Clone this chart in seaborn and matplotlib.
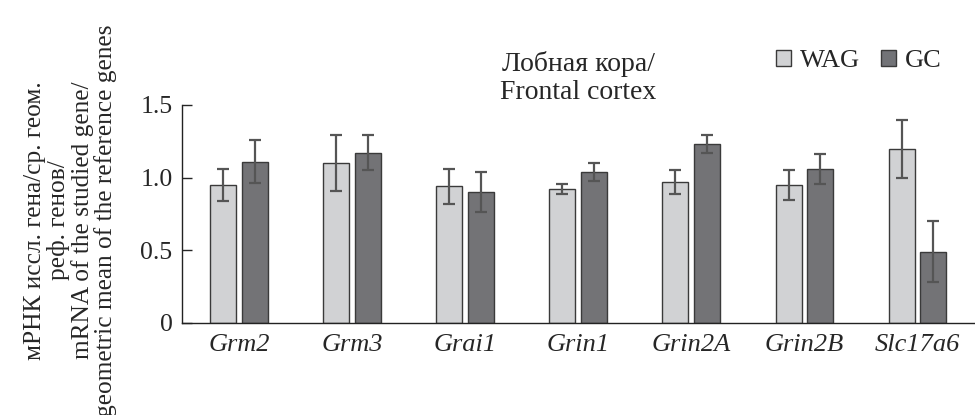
import numpy as np
import pandas as pd
import matplotlib
matplotlib.use("Agg")
import matplotlib.pyplot as plt
import seaborn as sns

genes = ["Grm2", "Grm3", "Grai1", "Grin1", "Grin2A", "Grin2B", "Slc17a6"]
groups = ["WAG", "GC"]
wag_mean = [0.95, 1.10, 0.94, 0.92, 0.97, 0.95, 1.20]
wag_err = [0.11, 0.19, 0.12, 0.035, 0.08, 0.105, 0.20]
gc_mean = [1.11, 1.17, 0.90, 1.04, 1.23, 1.06, 0.49]
gc_err = [0.15, 0.12, 0.14, 0.06, 0.06, 0.105, 0.21]

colors = {"WAG": "#d1d2d4", "GC": "#727377"}

df = pd.DataFrame({
    "gene": genes * 2,
    "group": ["WAG"] * len(genes) + ["GC"] * len(genes),
    "value": wag_mean + gc_mean,
    "err": wag_err + gc_err,
})

sns.set_style("ticks")
plt.rcParams["font.family"] = ["Liberation Serif", "DejaVu Serif"]

fig, ax = plt.subplots(figsize=(9.75, 4.15), dpi=100)
fig.subplots_adjust(left=0.187, right=0.999, bottom=0.222, top=0.747)

sns.barplot(data=df, x="gene", y="value", hue="group", order=genes,
            hue_order=groups, palette=colors, width=0.56, gap=0.18,
            errorbar=None, edgecolor="#3a3a3a", linewidth=1.0, ax=ax)

# error bars drawn at the bar centres
for cont, g in zip(ax.containers, groups):
    sub = df[df["group"] == g].set_index("gene").loc[genes]
    xs = [b.get_x() + b.get_width() / 2 for b in cont]
    ax.errorbar(xs, sub["value"], yerr=sub["err"], fmt="none",
                ecolor="#555555", elinewidth=1.6, capsize=4, capthick=1.6)

ax.set_ylim(0, 1.5)
ax.set_xlim(-0.5, 6.5)
ax.set_yticks([0, 0.5, 1.0, 1.5])
ax.set_yticklabels(["0", "0.5", "1.0", "1.5"])
ax.tick_params(axis="y", direction="in", length=7, width=1, pad=7, labelsize=18.5)
ax.tick_params(axis="x", length=0, pad=8, labelsize=19)
for lab in ax.get_xticklabels():
    lab.set_fontstyle("italic")
ax.set_xlabel("")
ax.set_ylabel("мРНК иссл. гена/ср. геом.\nреф. генов/\nmRNA of the studied gene/\ngeometric mean of the reference genes",
              fontsize=18.3, linespacing=1.05, labelpad=13)
ax.yaxis.set_label_coords(-0.082, 0.47)
ax.set_title("Лобная кора/\nFrontal cortex", fontsize=20, pad=2, linespacing=1.15)
sns.despine(ax=ax)
for s in ["left", "bottom"]:
    ax.spines[s].set_color("#222222")
    ax.spines[s].set_linewidth(1.0)

ax.legend_.remove()
handles = [plt.Rectangle((0, 0), 1, 1, facecolor=colors[g], edgecolor="#3a3a3a", linewidth=1) for g in groups]
fig.legend(handles, groups, loc="center right", bbox_to_anchor=(0.985, 0.853),
           ncol=2, frameon=False, fontsize=19, handlelength=0.55, handleheight=0.55,
           handletextpad=0.35, columnspacing=0.8, borderpad=0.2)

fig.savefig("out.png", dpi=100)
